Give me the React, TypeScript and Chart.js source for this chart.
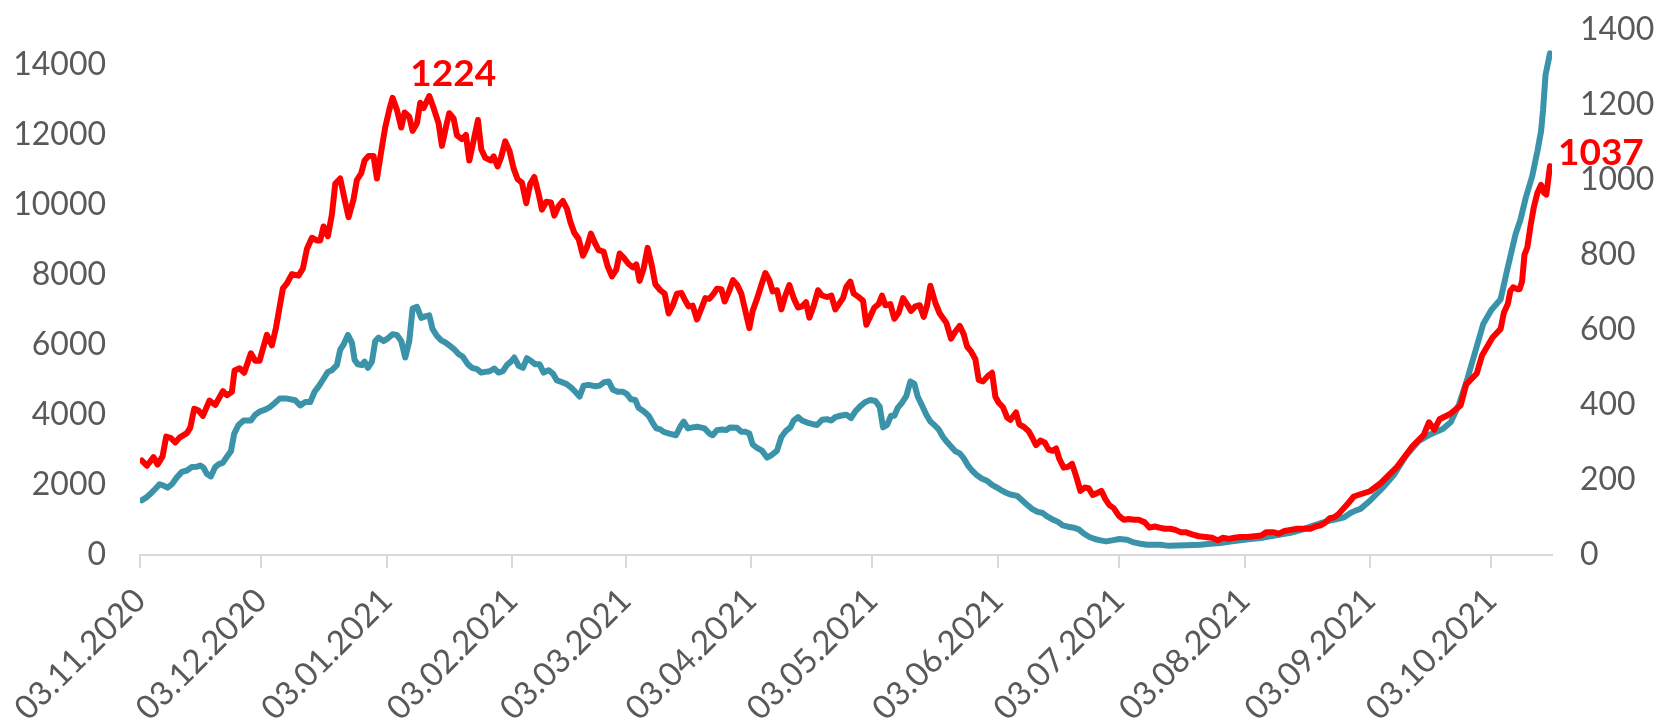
import React, { useEffect, useRef } from "react";
import { Chart, registerables } from "chart.js";

Chart.register(...registerables);

// x positions are days since 03.11.2020 (each day plotted in the middle of its bucket)
const startDate = "03.11.2020";
const tickDates = [
  "03.11.2020", "03.12.2020", "03.01.2021", "03.02.2021", "03.03.2021", "03.04.2021",
  "03.05.2021", "03.06.2021", "03.07.2021", "03.08.2021", "03.09.2021", "03.10.2021",
];
const axisEndDay = 349;
const leftTicks = [0, 2000, 4000, 6000, 8000, 10000, 12000, 14000];
const rightTicks = [0, 200, 400, 600, 800, 1000, 1200, 1400];

const redDay = [
  0.46, 1.7, 3.35, 4.33, 5.57, 6.48, 7.63, 8.7, 9.77, 11.59, 12.41, 13.4, 14.47, 15.54, 17.19, 18.59,
  20.49, 21.48, 22.71, 23.37, 24.61, 25.76, 27.41, 28.48, 29.55, 31.36, 32.6, 33.59, 35.32, 36.31,
  37.55, 39.19, 40.27, 41.25, 42.49, 43.72, 44.55, 45.37, 46.44, 47.43, 48.26, 49.49, 50.56, 51.55,
  52.79, 53.61, 54.68, 55.51, 56.5, 57.73, 58.56, 59.63, 60.62, 61.61, 62.43, 63.5, 64.57, 65.4,
  66.55, 67.38, 68.45, 69.27, 70.1, 71.5, 72.57, 73.8, 74.63, 75.62, 76.44, 77.51, 78.34, 79.57,
  80.56, 81.39, 82.46, 83.53, 84.35, 85.34, 86.74, 87.4, 88.39, 89.21, 90.28, 91.35, 92.34, 93.33,
  94.4, 95.47, 96.46, 97.45, 98.52, 99.35, 100.42, 101.57, 102.4, 103.47, 104.54, 105.53, 106.35,
  107.34, 108.41, 109.48, 110.47, 111.46, 112.53, 113.36, 114.59, 115.58, 116.65, 117.72, 118.55,
  119.54, 120.77, 121.84, 122.67, 123.49, 124.48, 125.47, 126.54, 127.37, 128.6, 129.68, 130.67,
  131.66, 132.73, 133.8, 134.79, 135.61, 136.6, 137.67, 138.74, 139.73, 140.72, 141.79, 142.62,
  143.69, 144.51, 145.5, 146.57, 147.56, 148.63, 149.62, 150.61, 151.43, 152.5, 153.58, 154.57,
  155.55, 156.38, 157.45, 158.52, 159.51, 160.5, 161.57, 162.64, 163.63, 164.62, 165.44, 166.52,
  167.59, 168.58, 169.81, 170.88, 171.87, 173.76, 174.59, 175.57, 176.4, 177.63, 178.71, 179.53,
  180.52, 181.51, 182.58, 183.4, 184.23, 185.46, 186.45, 187.52, 188.6, 189.58, 190.57, 191.64,
  192.72, 193.7, 194.53, 195.35, 196.59, 197.66, 199.31, 200.46, 201.53, 202.61, 203.59, 204.42,
  205.41, 206.48, 207.3, 208.37, 209.53, 210.6, 211.42, 212.25, 213.32, 214.31, 215.13, 216.53,
  217.35, 218.42, 219.66, 220.48, 221.47, 222.54, 223.61, 224.6, 225.59, 226.42, 227.24, 228.31,
  229.38, 230.37, 231.36, 232.43, 233.5, 234.49, 235.48, 236.55, 237.62, 238.61, 239.6, 240.67,
  241.91, 243.15, 244.38, 245.62, 246.85, 248.34, 249.49, 250.81, 251.96, 253.28, 254.68, 255.92,
  257.15, 258.39, 260.04, 261.69, 263.34, 264.99, 266.39, 267.71, 269.11, 270.51, 271.99, 273.64,
  275.46, 277.1, 278.42, 280.07, 281.47, 282.87, 284.36, 286.0, 287.65, 289.3, 290.54, 291.77,
  292.76, 294.08, 295.23, 296.3, 297.54, 298.78, 300.01, 301.66, 304.0, 306.7, 310.7, 314.6, 317.3,
  318.6, 319.9, 321.2, 323.8, 326.4, 327.8, 330.4, 331.7, 334.3, 336.3, 337.1, 338.1, 338.7, 339.4,
  340.4, 341.0, 341.6, 342.2, 342.9, 343.7, 344.5, 345.4, 346.3, 347.0, 347.6, 348.5,
];
const redValues = [
  252, 238, 261, 241, 263, 316, 312, 300, 313, 325, 339, 390, 385, 371, 412, 400,
  437, 426, 435, 492, 498, 486, 538, 518, 518, 587, 559, 605, 711, 724,
  749, 745, 764, 816, 846, 839, 839, 876, 850, 908, 990, 1004, 949, 901,
  949, 1000, 1018, 1052, 1064, 1064, 1004, 1077, 1141, 1187, 1219, 1187, 1140, 1180,
  1169, 1131, 1151, 1206, 1192, 1224, 1192, 1151, 1091, 1141, 1178, 1164, 1119, 1109,
  1120, 1052, 1105, 1160, 1082, 1059, 1052, 1063, 1036, 1059, 1103, 1077, 1031, 1002,
  993, 938, 990, 1008, 963, 921, 942, 940, 905, 931, 944, 923, 889,
  859, 843, 798, 821, 857, 830, 813, 809, 770, 743, 761, 804,
  793, 776, 767, 775, 731, 764, 819, 770, 722, 706, 697, 644,
  665, 697, 699, 678, 663, 665, 628, 657, 685, 683, 697, 710,
  709, 676, 701, 733, 721, 697, 651, 605, 651, 683, 720, 752,
  733, 703, 706, 655, 692, 720, 685, 660, 663, 674, 633, 665,
  706, 692, 688, 692, 655, 685, 715, 729, 697, 688, 678, 614,
  637, 660, 669, 692, 666, 669, 630, 646, 685, 669, 651, 663,
  666, 635, 665, 718, 672, 644, 619, 577, 596, 611, 589, 556,
  543, 522, 467, 463, 477, 486, 422, 406, 394, 367, 360, 380,
  348, 342, 330, 314, 293, 305, 300, 281, 278, 284, 256, 233,
  235, 243, 211, 171, 180, 178, 160, 165, 171, 149, 133, 125,
  105, 94, 96, 94, 94, 87, 73, 76, 73, 70, 70, 67,
  61, 61, 55, 50, 48, 46, 39, 46, 43, 46, 48, 48,
  50, 52, 61, 61, 57, 64, 67, 70, 70, 70, 76, 79,
  85, 98, 101, 110, 125, 140, 156, 162, 170, 192, 235, 291, 320,
  354, 334, 362, 376, 399, 455, 484, 532, 580, 603, 646, 670, 704, 714,
  709, 709, 729, 801, 820, 878, 927, 966, 987, 966, 961, 1037,
];

const tealDay = [
  0.46, 1.7, 2.93, 3.76, 4.83, 5.82, 6.81, 7.88, 9.11, 10.35, 11.59, 12.82, 14.06, 14.88, 15.71,
  16.53, 17.52, 18.59, 19.42, 20.49, 21.48, 22.47, 23.29, 24.36, 25.6, 27.41, 28.48, 29.72, 30.95,
  32.19, 33.18, 34.5, 36.31, 38.37, 39.6, 40.84, 42.08, 43.15, 44.3, 45.37, 46.44, 47.43, 48.67,
  49.49, 50.32, 51.39, 52.38, 53.04, 53.86, 54.85, 55.51, 56.33, 57.32, 58.15, 58.97, 60.21, 61.28,
  62.43, 63.5, 64.57, 65.56, 66.55, 67.38, 68.45, 69.52, 70.51, 71.5, 72.32, 73.39, 74.46, 75.62,
  76.69, 77.76, 78.75, 79.74, 81.06, 82.05, 83.28, 84.35, 85.34, 86.41, 87.56, 88.63, 89.7, 90.69,
  91.68, 92.51, 93.58, 94.65, 95.64, 96.63, 97.7, 98.77, 99.76, 100.99, 102.07, 103.05, 104.29,
  105.36, 106.52, 107.59, 108.66, 109.65, 110.88, 112.53, 113.6, 114.76, 115.83, 116.9, 118.05,
  119.37, 120.36, 121.35, 122.42, 123.24, 124.48, 125.72, 126.79, 127.61, 128.6, 129.43, 130.83,
  132.48, 133.55, 134.37, 135.45, 136.6, 137.67, 139.57, 140.72, 141.54, 142.62, 143.85, 144.84,
  145.91, 147.56, 148.63, 149.62, 150.61, 151.43, 152.5, 153.74, 154.98, 156.21, 157.45, 158.52,
  159.67, 160.75, 161.57, 162.64, 163.63, 164.87, 166.1, 167.34, 168.58, 169.81, 170.88, 171.87,
  173.1, 174.59, 175.74, 176.81, 178.05, 179.28, 180.52, 181.76, 182.83, 183.65, 184.64, 185.63,
  186.45, 187.28, 188.35, 189.42, 190.41, 191.4, 192.22, 193.29, 194.36, 195.35, 196.34, 197.41,
  198.48, 199.47, 200.46, 201.53, 202.61, 203.59, 204.58, 205.65, 206.89, 208.13, 209.36, 210.6,
  211.84, 212.82, 213.9, 215.13, 216.77, 218.01, 219.25, 220.48, 221.72, 223.12, 224.19, 225.43,
  226.91, 228.06, 229.38, 230.78, 232.02, 233.26, 234.66, 235.98, 237.38, 238.78, 240.26, 242.07,
  243.97, 245.62, 247.27, 248.91, 250.56, 252.21, 254.27, 256.33, 258.39, 262.1, 264.58, 267.05,
  269.52, 271.99, 274.47, 276.94, 279.41, 281.88, 284.36, 286.83, 289.3, 291.77, 293.83, 295.89,
  297.54, 299.19, 300.43, 301.66, 304, 307, 310, 313, 316, 319, 322, 324, 326, 328, 330, 332, 334,
  336.3, 337.9, 340.0, 341.2, 342.5, 344.1, 345.4, 346.3, 346.8, 347.4, 348.5,
];
const tealValues = [
  1562, 1660, 1788, 1886, 2022, 1983, 1924, 2022, 2218, 2375, 2414, 2512, 2521, 2560, 2492,
  2316, 2247, 2512, 2590, 2639, 2805, 2962, 3470, 3715, 3842, 3842, 4008, 4106, 4155,
  4233, 4331, 4468, 4468, 4420, 4273, 4370, 4370, 4664, 4840, 5036, 5231, 5280, 5427,
  5867, 6014, 6288, 6063, 5574, 5447, 5427, 5525, 5349, 5525, 6112, 6210, 6112, 6190,
  6308, 6288, 6112, 5642, 6112, 7041, 7090, 6777, 6816, 6846, 6454, 6259, 6131, 6063,
  5965, 5867, 5740, 5672, 5447, 5349, 5310, 5212, 5231, 5251, 5329, 5212, 5251, 5427,
  5525, 5642, 5407, 5349, 5623, 5545, 5447, 5447, 5212, 5280, 5182, 4987, 4938,
  4889, 4791, 4664, 4527, 4840, 4860, 4820, 4840, 4938, 4957, 4722, 4664,
  4664, 4595, 4449, 4429, 4204, 4106, 3979, 3764, 3617, 3588, 3519, 3470,
  3421, 3666, 3813, 3617, 3646, 3666, 3617, 3470, 3421, 3568, 3588, 3568,
  3646, 3636, 3519, 3519, 3470, 3157, 3059, 2981, 2785, 2864, 2981, 3372,
  3549, 3646, 3842, 3940, 3842, 3783, 3744, 3715, 3862, 3881, 3842, 3940,
  3979, 4009, 3911, 4106, 4253, 4370, 4429, 4400, 4233, 3646, 3715, 3979,
  3979, 4204, 4351, 4546, 4957, 4889, 4527, 4273, 4009, 3813, 3715, 3588,
  3372, 3226, 3099, 2962, 2903, 2766, 2570, 2414, 2277, 2179, 2120, 2002,
  1924, 1856, 1787, 1729, 1690, 1562, 1435, 1318, 1240, 1200, 1103, 1024,
  946, 848, 809, 780, 731, 613, 515, 457, 418, 388, 418, 457,
  437, 359, 320, 291, 291, 291, 261, 271, 281, 291, 320, 340,
  388, 418, 457, 486, 535, 584, 633, 711, 809, 907, 976, 1024,
  1073, 1200, 1269, 1318, 1550, 1900, 2300, 2850, 3250, 3450, 3600, 3800, 4300, 5000, 5800, 6600, 7000,
  7307, 8134, 9168, 9580, 10200, 10821, 11543, 12111, 12731, 13714, 14333,
];

const TEAL = "#3A93A8";
const RED = "#FF0000";
const AXIS_TEXT = "#595959";
const FONT = "Lato, 'Open Sans', sans-serif";

function parseDate(s: string): number {
  const [d, m, y] = s.split(".").map(Number);
  return Date.UTC(y, m - 1, d);
}
const START_MS = parseDate(startDate);
function dayOf(s: string): number {
  return Math.round((parseDate(s) - START_MS) / 86400000);
}
function formatDay(n: number): string {
  const dt = new Date(START_MS + Math.round(n) * 86400000);
  const dd = String(dt.getUTCDate()).padStart(2, "0");
  const mm = String(dt.getUTCMonth() + 1).padStart(2, "0");
  return `${dd}.${mm}.${dt.getUTCFullYear()}`;
}

const labelPlugin = {
  id: "redLabels",
  afterDatasetsDraw(chart: any) {
    const ctx = chart.ctx;
    const xs = chart.scales.x;
    const ys = chart.scales.y1;
    let iMax = 0;
    redValues.forEach((v, i) => {
      if (v > redValues[iMax]) iMax = i;
    });
    const iLast = redValues.length - 1;
    ctx.save();
    ctx.fillStyle = RED;
    ctx.font = `bold 37px ${FONT}`;
    ctx.textBaseline = "middle";
    ctx.textAlign = "center";
    ctx.fillText(
      String(redValues[iMax]),
      xs.getPixelForValue(redDay[iMax]) + 24,
      ys.getPixelForValue(redValues[iMax]) - 22
    );
    ctx.textAlign = "left";
    ctx.fillText(
      String(redValues[iLast]),
      xs.getPixelForValue(redDay[iLast]) + 8,
      ys.getPixelForValue(redValues[iLast]) - 13
    );
    ctx.restore();
  },
};

export default function App() {
  const canvasRef = useRef<HTMLCanvasElement | null>(null);

  useEffect(() => {
    const canvas = canvasRef.current;
    if (!canvas) return;
    const tickFont = { family: FONT, size: 32 };
    const chart = new Chart(canvas, {
      type: "line",
      data: {
        datasets: [
          {
            label: "red",
            data: redDay.map((d, i) => ({ x: d, y: redValues[i] })),
            yAxisID: "y1",
            borderColor: RED,
            backgroundColor: RED,
            borderWidth: 6,
            pointRadius: 0,
            tension: 0,
            borderJoinStyle: "round",
            borderCapStyle: "round",
          },
          {
            label: "teal",
            data: tealDay.map((d, i) => ({ x: d, y: tealValues[i] })),
            yAxisID: "y",
            borderColor: TEAL,
            backgroundColor: TEAL,
            borderWidth: 6,
            pointRadius: 0,
            tension: 0,
            borderJoinStyle: "round",
            borderCapStyle: "round",
          },
        ],
      },
      options: {
        responsive: false,
        animation: false,
        devicePixelRatio: 1,
        layout: { padding: { top: 30, left: 0, right: 0, bottom: 0 } },
        plugins: { legend: { display: false }, tooltip: { enabled: false } },
        scales: {
          x: {
            type: "linear",
            min: 0,
            max: axisEndDay,
            afterBuildTicks: (scale: any) => {
              scale.ticks = tickDates.map((s) => ({ value: dayOf(s) }));
            },
            afterFit: (scale: any) => {
              scale.height = 167;
            },
            ticks: {
              autoSkip: false,
              minRotation: 45,
              maxRotation: 45,
              padding: 13,
              color: AXIS_TEXT,
              font: { family: FONT, size: 33 },
              callback: (v: any) => formatDay(Number(v)),
            },
            grid: {
              display: true,
              drawOnChartArea: false,
              drawTicks: true,
              tickLength: 13,
              color: "#D9D9D9",
              lineWidth: 2,
            },
            border: { display: true, color: "#D9D9D9", width: 2 },
          },
          y: {
            type: "linear",
            position: "left",
            min: 0,
            max: 15000,
            afterBuildTicks: (scale: any) => {
              scale.ticks = leftTicks.map((v) => ({ value: v }));
            },
            afterFit: (scale: any) => {
              scale.width = 140;
              scale.paddingTop = 0;
              scale.paddingBottom = 0;
            },
            ticks: {
              padding: 34,
              color: AXIS_TEXT,
              font: tickFont,
              callback: (v: any) => String(v),
            },
            grid: { display: false, drawTicks: false },
            border: { display: false },
          },
          y1: {
            type: "linear",
            position: "right",
            min: 0,
            max: 1400,
            afterBuildTicks: (scale: any) => {
              scale.ticks = rightTicks.map((v) => ({ value: v }));
            },
            afterFit: (scale: any) => {
              scale.width = 113;
              scale.paddingTop = 0;
              scale.paddingBottom = 0;
            },
            ticks: {
              padding: 28,
              color: AXIS_TEXT,
              font: tickFont,
              callback: (v: any) => String(v),
            },
            grid: { display: false, drawTicks: false },
            border: { display: false },
          },
        },
      },
      plugins: [labelPlugin],
    } as any);
    return () => chart.destroy();
  }, []);

  return (
    <div style={{ position: "absolute", left: 0, top: 0, width: 1665, height: 722, background: "#ffffff" }}>
      <canvas ref={canvasRef} width={1665} height={722} style={{ display: "block" }} />
    </div>
  );
}
